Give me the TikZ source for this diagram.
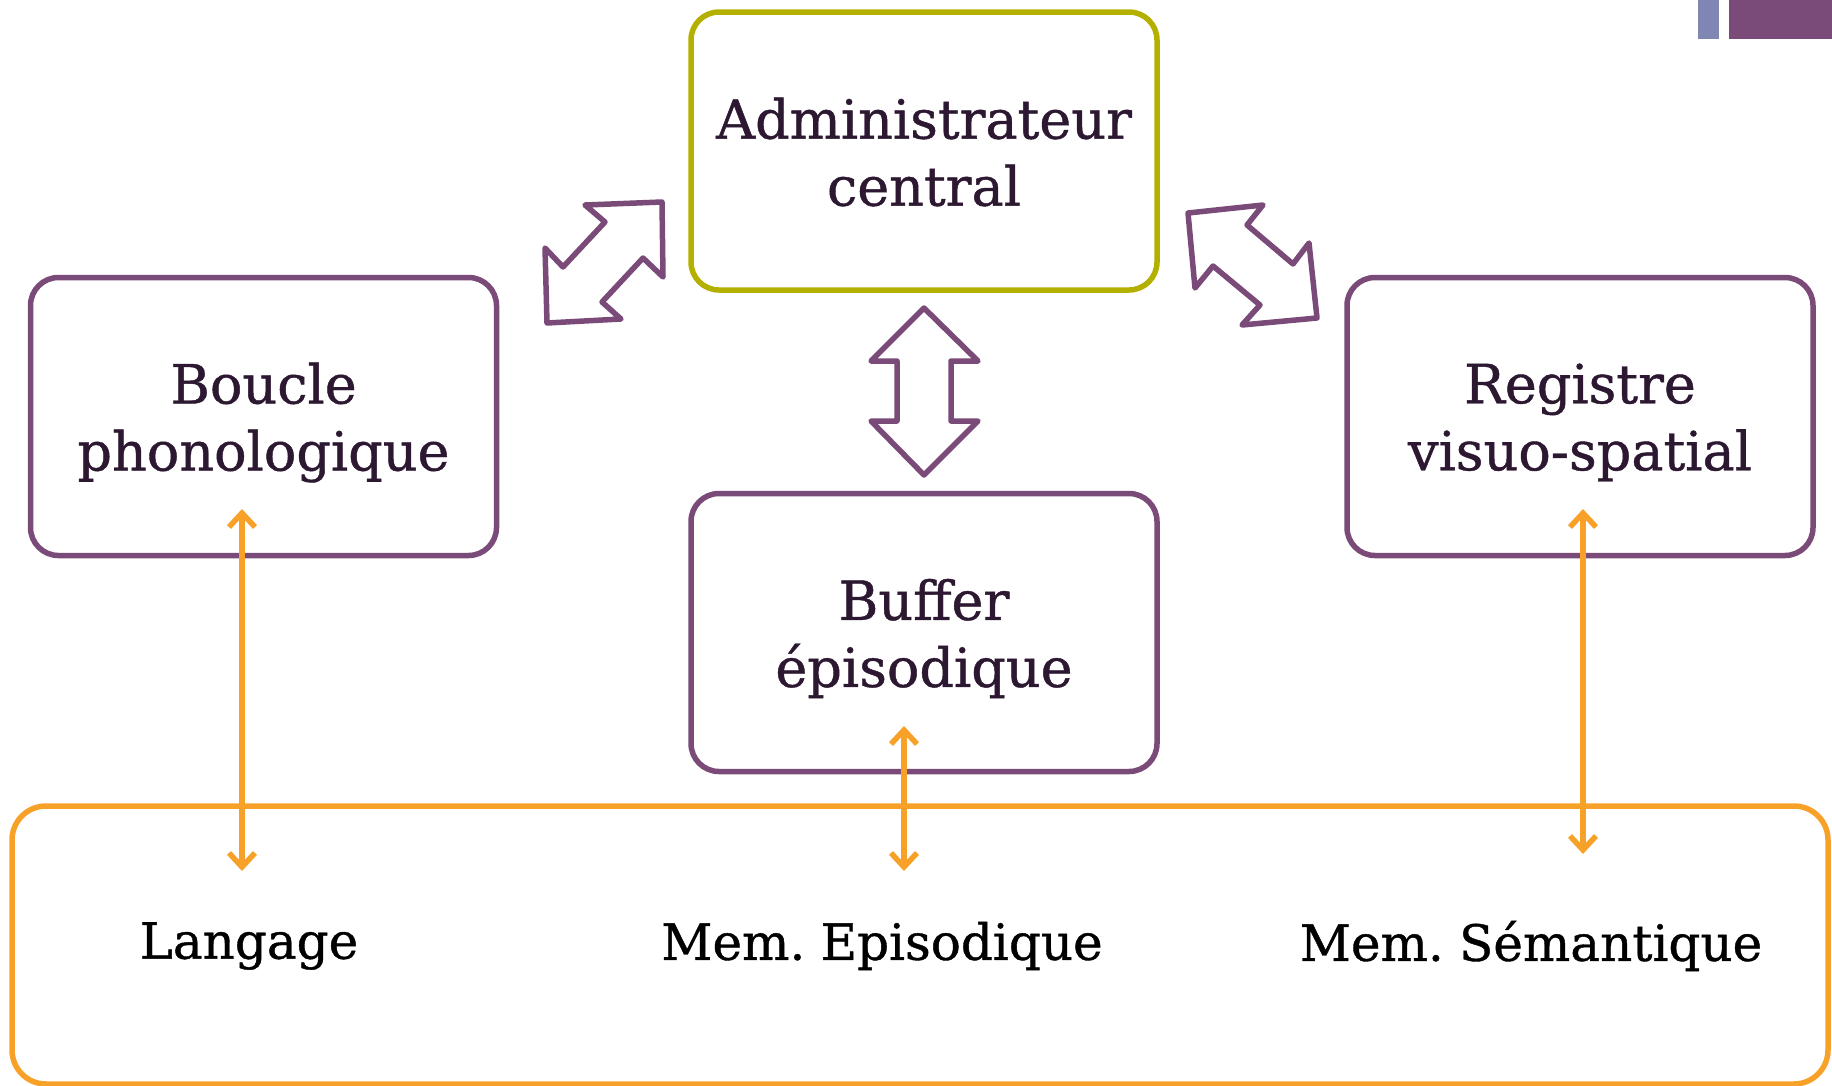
\documentclass[tikz,border=0pt]{standalone}
\usepackage{fontspec}
\setmainfont[FakeBold=0.8]{DejaVu Serif}
\usetikzlibrary{arrows.meta}
\definecolor{purp}{HTML}{7A4A78}
\definecolor{olive}{HTML}{B3B000}
\definecolor{orng}{HTML}{F7A128}
\definecolor{txt}{HTML}{2D1832}
\definecolor{bluegrey}{HTML}{7F86B4}
\newcommand{\tightspace}{\spaceskip=0.2em\relax}
\begin{document}
\begin{tikzpicture}[x=1pt,y=-1pt,
  box/.style={draw=purp,line width=5.5pt,rounded corners=28pt,fill=white,
    minimum width=466pt,minimum height=278pt,inner sep=0pt},
  boxtext/.style={align=center,text=txt,font=\fontsize{54}{67}\selectfont,inner sep=0pt},
  hollow/.style={draw=purp,line width=5.5pt,line join=round,fill=white},
  oarrow/.style={draw=orng,line width=5.5pt,line cap=round,
    {Straight Barb[length=14pt,width=26pt,line width=5.5pt]}-{Straight Barb[length=14pt,width=26pt,line width=5.5pt]}},
  lbl/.style={text=black,font=\fontsize{50}{60}\selectfont,inner sep=0pt}]
\useasboundingbox (0,0) rectangle (1832,1085);
% corner decoration
\fill[bluegrey] (1698,0) rectangle (1719,39);
\fill[purp] (1729,0) rectangle (1832,39);
% bottom memory box
\node[draw=orng,line width=5.5pt,rounded corners=34pt,minimum width=1816pt,minimum height=278pt,inner sep=0pt] (mem) at (920,945) {};
% boxes
\node[box,draw=olive] (admin) at (924,151) {};
\node[box] (boucle) at (263.5,416.5) {};
\node[box] (reg) at (1580,416.5) {};
\node[box] (buf) at (924,632.5) {};
\node[boxtext] (adminT) at ([yshift=-1pt]admin.center) {Administrateur\\central};
\node[boxtext] (boucleT) at ([yshift=-6pt]boucle.center) {Boucle\\phonologique};
\node[boxtext] (regT) at ([yshift=-6pt]reg.center) {Registre\\visuo-spatial};
\node[boxtext] (bufT) at ([yshift=-6pt]buf.center) {Buffer\\épisodique};
% labels
\node[lbl] (lang) at (249,946) {Langage};
\node[lbl] (mepi) at (882,946) {\tightspace Mem. Episodique};
\node[lbl] (msem) at (1531,946) {\tightspace Mem. Sémantique};
% hollow arrows
\draw[hollow] (662,202) -- (585,205) -- (605,222) -- (563,267) -- (545,248) -- (547,323) -- (621,319) -- (602,302) -- (643,258) -- (663,277) -- cycle;
\draw[hollow] (1188,213) -- (1263,205) -- (1247,225) -- (1293,264) -- (1309,243) -- (1317,318) -- (1242,325) -- (1260,305) -- (1213,266) -- (1195,288) -- cycle;
\draw[hollow] (924,308) -- (978,361) -- (951,361) -- (951,421) -- (978,421) -- (924,475) -- (871,421) -- (897,421) -- (897,361) -- (871,361) -- cycle;
% orange arrows
\coordinate (o1a) at (242,509); \coordinate (o1b) at (242,871);
\coordinate (o2a) at (904,726); \coordinate (o2b) at (904,871);
\coordinate (o3a) at (1583,509); \coordinate (o3b) at (1583,854);
\draw[oarrow] (o1a) -- (o1b);
\draw[oarrow] (o2a) -- (o2b);
\draw[oarrow] (o3a) -- (o3b);
\end{tikzpicture}
\end{document}
